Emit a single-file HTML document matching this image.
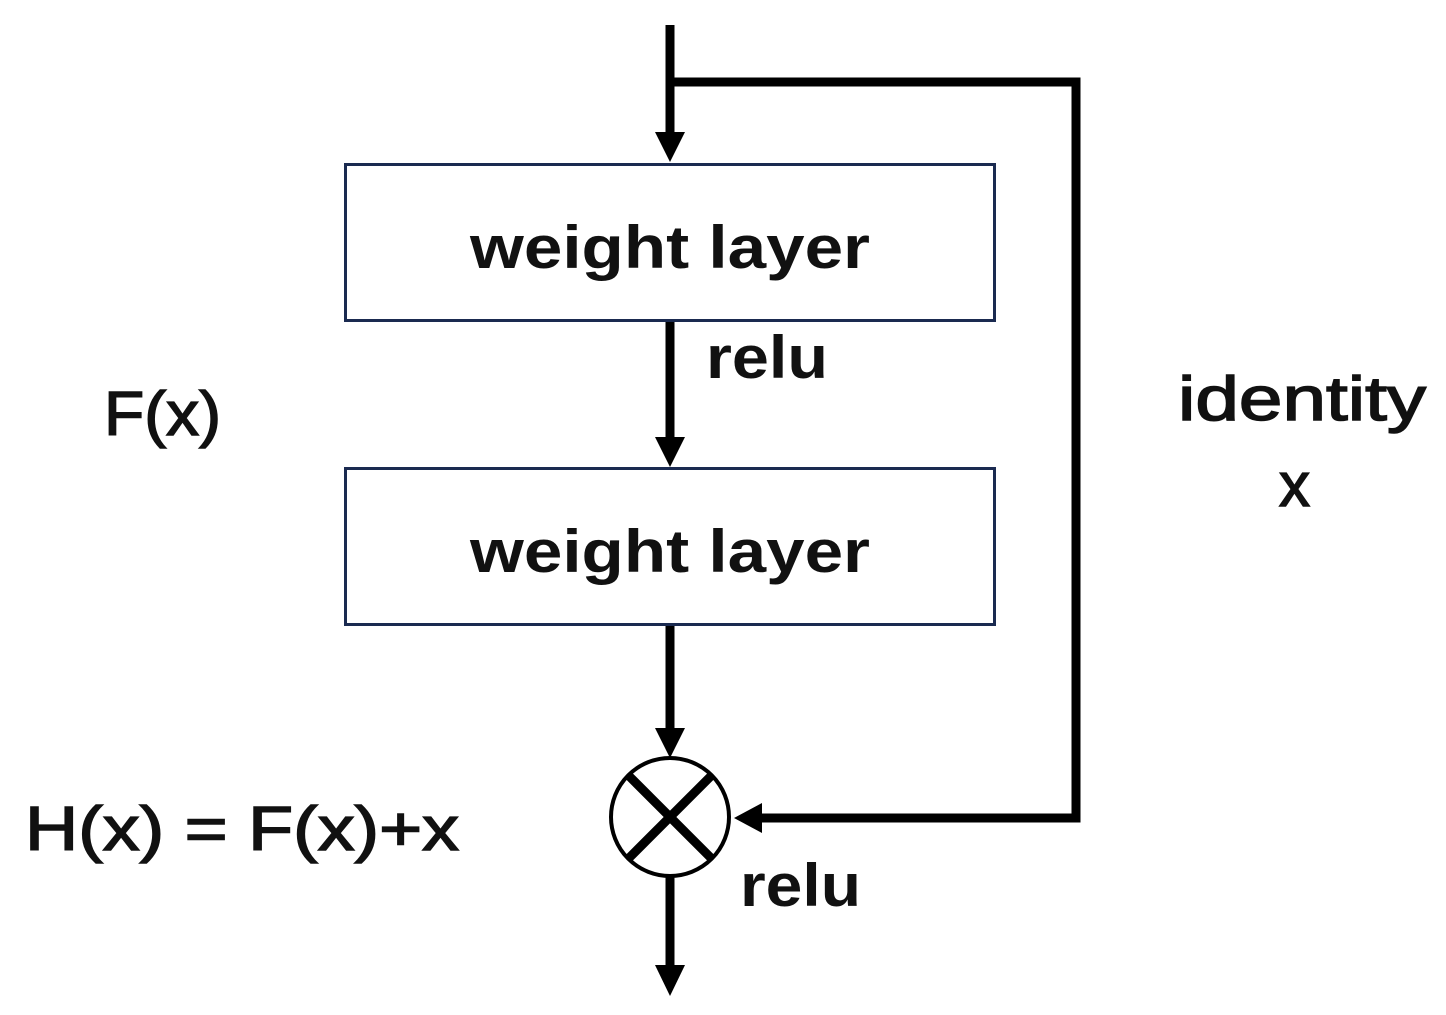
<!DOCTYPE html>
<html><head><meta charset="utf-8"><style>html,body{margin:0;padding:0;background:#fff}svg{display:block}</style></head>
<body>
<svg width="1446" height="1015" viewBox="0 0 1446 1015" xmlns="http://www.w3.org/2000/svg" font-family="Liberation Sans, sans-serif">
<g stroke="#000" stroke-width="9" fill="none">
<line x1="670" y1="25" x2="670" y2="135"/>
<polyline points="670,82 1076,82 1076,818 760,818"/>
<line x1="670" y1="321" x2="670" y2="440"/>
<line x1="670" y1="625" x2="670" y2="730"/>
<line x1="670" y1="876" x2="670" y2="968"/>
</g>
<g fill="#000">
<polygon points="655,132 685,132 670,162"/>
<polygon points="655,437 685,437 670,467"/>
<polygon points="655,728 685,728 670,758"/>
<polygon points="655,965 685,965 670,996"/>
<polygon points="762,803 762,833 734,818"/>
</g>
<rect x="345.5" y="164.5" width="649" height="156" fill="none" stroke="#1a2a50" stroke-width="3"/>
<rect x="345.5" y="468.5" width="649" height="156" fill="none" stroke="#1a2a50" stroke-width="3"/>
<circle cx="670" cy="817" r="59" fill="none" stroke="#000" stroke-width="4"/>
<g stroke="#000" stroke-width="9">
<line x1="628" y1="775" x2="712" y2="859"/>
<line x1="712" y1="775" x2="628" y2="859"/>
</g>
<g fill="#111" font-size="60">
<text x="470" y="268" font-weight="bold" textLength="400" lengthAdjust="spacingAndGlyphs">weight layer</text>
<text x="470" y="572" font-weight="bold" textLength="400" lengthAdjust="spacingAndGlyphs">weight layer</text>
<text x="706" y="378" font-weight="bold" textLength="122" lengthAdjust="spacingAndGlyphs">relu</text>
<text x="740" y="906" font-weight="bold" textLength="121" lengthAdjust="spacingAndGlyphs">relu</text>
</g>
<g fill="#111" font-size="62" stroke="#111" stroke-width="1.5">
<text x="104" y="435" textLength="117" lengthAdjust="spacingAndGlyphs">F(x)</text>
<text x="1178" y="420" textLength="248" lengthAdjust="spacingAndGlyphs">identity</text>
<text x="1279" y="506">x</text>
<text x="25" y="850" textLength="434" lengthAdjust="spacingAndGlyphs">H(x) = F(x)+x</text>
</g>
</svg>
</body></html>
